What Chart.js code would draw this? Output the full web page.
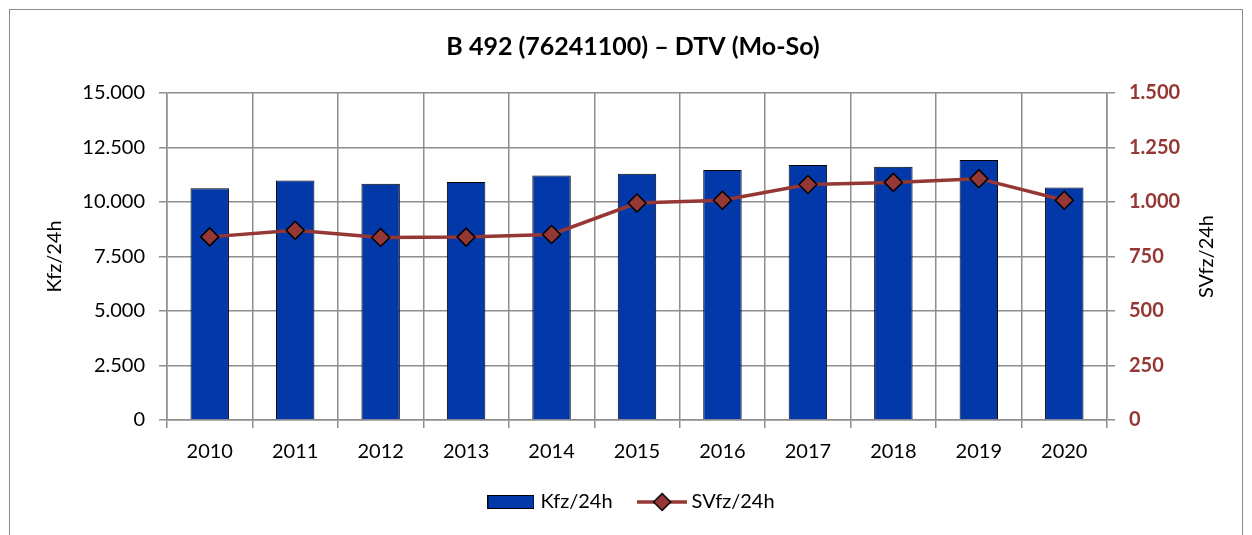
<!DOCTYPE html>
<html>
<head>
<meta charset="utf-8">
<script src="https://cdn.jsdelivr.net/npm/chart.js@4/dist/chart.umd.min.js"></script>
<style>
  html, body { margin: 0; padding: 0; background: #ffffff; overflow: hidden; }
  #frame { position: absolute; left: 9px; top: 9px; width: 1232px; height: 600px; border: 1px solid #8c8c8c; }
  #c { position: absolute; left: 0; top: 0; }
</style>
</head>
<body>
<div id="frame"></div>
<canvas id="c" width="1252" height="535"></canvas>
<script>
// ---- data ----
const years = ['2010','2011','2012','2013','2014','2015','2016','2017','2018','2019','2020'];
const kfz   = [10630, 10990, 10840, 10920, 11210, 11300, 11470, 11700, 11620, 11930, 10670];
const svfz  = [840, 870, 837, 839, 851, 995, 1008, 1080, 1090, 1107, 1008];
const titleText = 'B 492 (76241100) \u2013 DTV (Mo-So)';
const leftAxisTitle = 'Kfz/24h';
const rightAxisTitle = 'SVfz/24h';
const seriesNames = ['Kfz/24h', 'SVfz/24h'];

const BAR = '#0338a8';
const RED = '#953735';
const GRID = '#8e8e8e';
const FONT = 'Lato';

function fmt(v) {
  return String(Math.round(v)).replace(/\B(?=(\d{3})+(?!\d))/g, '.');
}

// legend icons
function barIcon() {
  const c = document.createElement('canvas');
  c.width = 47; c.height = 14;
  const g = c.getContext('2d');
  g.fillStyle = BAR; g.fillRect(0.5, 0.5, 46, 13);
  g.strokeStyle = '#000'; g.lineWidth = 1; g.strokeRect(0.5, 0.5, 46, 13);
  return c;
}
function lineIcon() {
  const c = document.createElement('canvas');
  c.width = 50; c.height = 20;
  const g = c.getContext('2d');
  g.strokeStyle = RED; g.lineWidth = 3.5;
  g.beginPath(); g.moveTo(0, 10); g.lineTo(50, 10); g.stroke();
  g.beginPath();
  g.moveTo(25, 1.5); g.lineTo(33.5, 10); g.lineTo(25, 18.5); g.lineTo(16.5, 10); g.closePath();
  g.fillStyle = RED; g.fill();
  g.strokeStyle = '#000'; g.lineWidth = 1.5; g.stroke();
  return c;
}
const icons = [barIcon(), lineIcon()];

const rightTitlePlugin = {
  id: 'rightTitle',
  afterDraw(chart) {
    const s = chart.scales.y1;
    const ctx = chart.ctx;
    ctx.save();
    ctx.translate(1207, (s.top + s.bottom) / 2);
    ctx.rotate(-Math.PI / 2);
    ctx.font = '20px ' + FONT;
    ctx.fillStyle = '#000';
    ctx.textAlign = 'center';
    ctx.textBaseline = 'middle';
    ctx.fillText(rightAxisTitle, 0, 0);
    ctx.restore();
  }
};

new Chart(document.getElementById('c'), {
  data: {
    labels: years,
    datasets: [
      {
        type: 'bar', label: seriesNames[0], data: kfz, yAxisID: 'y', order: 1,
        backgroundColor: BAR, borderColor: '#000', borderWidth: 1,
        categoryPercentage: 1, barPercentage: 0.45
      },
      {
        type: 'line', label: seriesNames[1], data: svfz, yAxisID: 'y1', order: 0,
        borderColor: RED, borderWidth: 3.5, tension: 0,
        pointStyle: 'rectRot', pointRadius: 9, pointHoverRadius: 9,
        pointBackgroundColor: RED, pointBorderColor: '#000', pointBorderWidth: 1.5
      }
    ]
  },
  options: {
    responsive: false,
    animation: false,
    devicePixelRatio: 1,
    layout: { padding: { left: 14, right: 0, top: 0, bottom: 13 } },
    plugins: {
      tooltip: { enabled: false },
      title: {
        display: true, text: titleText, color: '#000',
        font: { family: FONT, size: 25, weight: 'bold', lineHeight: 1.2 },
        padding: { top: 32, bottom: 31 }
      },
      legend: {
        position: 'bottom',
        labels: {
          usePointStyle: true, pointStyleWidth: 39, padding: 30,
          color: '#000', font: { family: FONT, size: 20 },
          generateLabels() {
            return seriesNames.map((n, i) => ({
              text: n, pointStyle: icons[i], fillStyle: 'transparent',
              strokeStyle: 'transparent', lineWidth: 0, hidden: false, datasetIndex: i, fontColor: '#000'
            }));
          }
        }
      }
    },
    scales: {
      x: {
        type: 'category',
        offset: true,
        grid: { offset: true, color: GRID, lineWidth: 1.5, tickLength: 8, drawTicks: true },
        border: { color: GRID, width: 1.5 },
        ticks: { color: '#000', font: { family: FONT, size: 20 }, padding: 12, maxRotation: 0 },
        afterFit(s) { s.height = 42; }
      },
      y: {
        position: 'left', min: 0, max: 15000,
        ticks: { stepSize: 2500, color: '#000', font: { family: FONT, size: 20 }, padding: 14, callback: v => fmt(v) },
        grid: { color: GRID, lineWidth: 1.5, tickLength: 8 },
        border: { color: GRID, width: 1.5 },
        title: { display: true, text: leftAxisTitle, color: '#000', font: { family: FONT, size: 20 }, padding: { top: 29, bottom: 0 } },
        afterFit(s) { s.width = 153; }
      },
      y1: {
        position: 'right', min: 0, max: 1500,
        ticks: { stepSize: 250, color: RED, font: { family: FONT, size: 20, weight: 'bold' }, padding: 14, callback: v => fmt(v) },
        grid: { drawOnChartArea: false, color: GRID, lineWidth: 1.5, tickLength: 8 },
        border: { color: GRID, width: 1.5 },
        afterFit(s) { s.width = 145; }
      }
    }
  },
  plugins: [rightTitlePlugin]
});
</script>
</body>
</html>
